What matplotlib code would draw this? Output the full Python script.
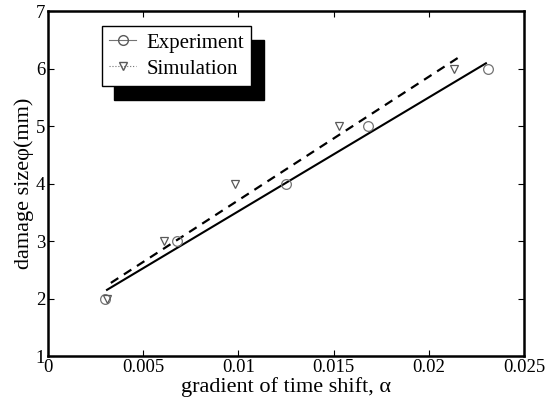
import matplotlib
matplotlib.use('Agg')
import matplotlib.pyplot as plt
from matplotlib.lines import Line2D
import numpy as np

plt.rcParams['font.family'] = ['Liberation Serif', 'DejaVu Serif']

# measured points
exp_x = [0.003, 0.0068, 0.0125, 0.0168, 0.0231]
exp_y = [2, 3, 4, 5, 6]
sim_x = [0.0031, 0.0061, 0.0098, 0.0153, 0.0213]
sim_y = [2, 3, 4, 5, 6]

# range drawn for each fitted line
exp_fit_range = [0.0031, 0.0230]
sim_fit_range = [0.0033, 0.0218]

xticks = [0, 0.005, 0.01, 0.015, 0.02, 0.025]
xticklabels = ['0', '0.005', '0.01', '0.015', '0.02', '0.025']
yticks = [1, 2, 3, 4, 5, 6, 7]

fig = plt.figure(figsize=(5.6, 4.11), dpi=100)
ax = fig.add_axes([0.0857, 0.1338, 0.85, 0.8394])

# linear fits through each series
pe = np.polyfit(exp_x, exp_y, 1)
ps = np.polyfit(sim_x, sim_y, 1)
xe = np.array(exp_fit_range)
xs = np.array(sim_fit_range)
ax.plot(xe, np.polyval(pe, xe), color='black', lw=1.5)
ax.plot(xs, np.polyval(ps, xs) - 0.05, color='black', lw=1.6, dashes=(4, 3))

ax.plot(exp_x, exp_y, 'o', mfc='none', mec='0.45', ms=7, mew=0.9)
ax.plot(sim_x, sim_y, 'v', mfc='none', mec='0.35', ms=6, mew=0.9)

ax.set_xlim(0, 0.025)
ax.set_ylim(1, 7)
ax.set_xticks(xticks)
ax.set_xticklabels(xticklabels)
ax.set_yticks(yticks)
ax.tick_params(direction='in', top=True, right=True, length=4, width=0.8,
               labelsize=13.5, pad=2)
for s in ax.spines.values():
    s.set_linewidth(1.8)

ax.set_xlabel('gradient of time shift, α', fontsize=16, labelpad=1)
ax.set_ylabel('damage sizeφ(mm)', fontsize=16, labelpad=1)

handles = [
    Line2D([], [], color='0.45', lw=0.8, marker='o', mfc='none', mec='0.35', ms=7),
    Line2D([], [], color='0.45', lw=0.8, ls=':', marker='v', mfc='none', mec='0.35', ms=6),
]
leg = ax.legend(handles, ['Experiment', 'Simulation'], loc='upper left',
                bbox_to_anchor=(0.113, 0.957), borderaxespad=0, fancybox=False,
                framealpha=1, edgecolor='black', fontsize=15, handlelength=1.3,
                handletextpad=0.5, borderpad=0.35, labelspacing=0.3,
                shadow={'ox': 9, 'oy': -10, 'color': 'black', 'alpha': 1})
leg.get_frame().set_linewidth(1.0)

fig.savefig('out.png', dpi=100)
